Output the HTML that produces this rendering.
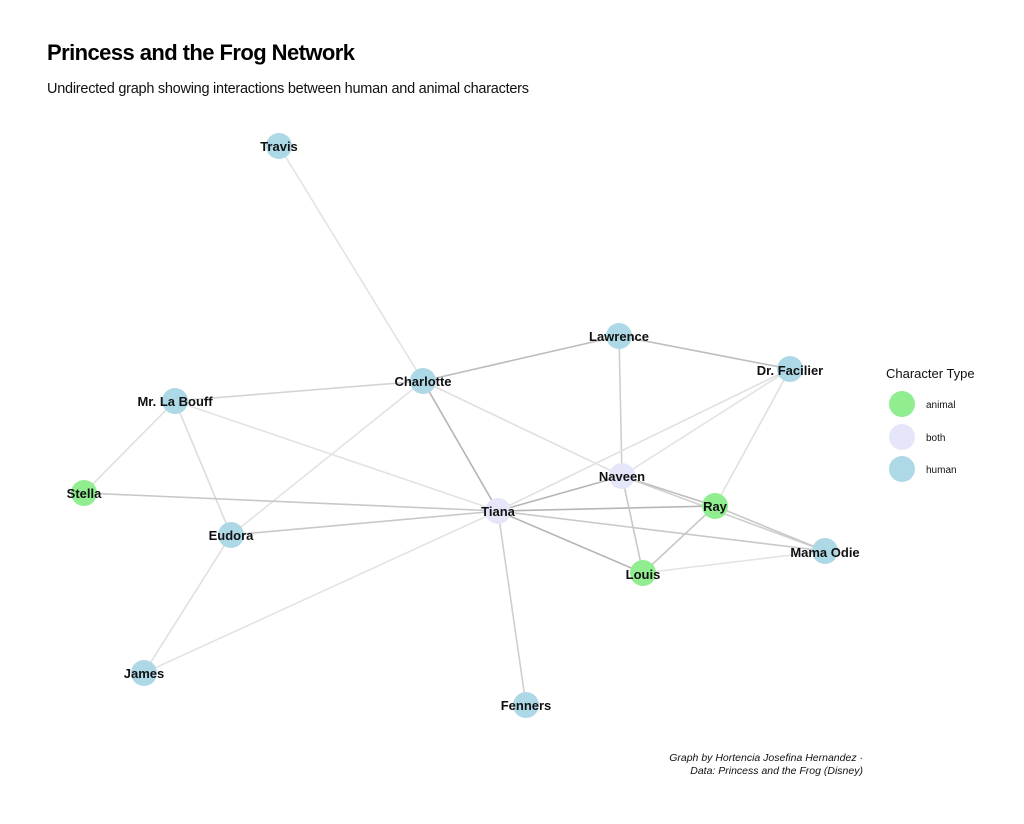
<!DOCTYPE html>
<html><head><style>
body{margin:0;background:#fff;}
svg text{font-family:"Liberation Sans",Arial,sans-serif;}
</style></head><body>
<svg width="1024" height="819" xmlns="http://www.w3.org/2000/svg">
<rect width="1024" height="819" fill="#fff"/>
<text x="47" y="60" font-size="22" font-weight="bold" fill="#000" textLength="308">Princess and the Frog Network</text>
<text x="47" y="93" font-size="14.5" fill="#111" textLength="482">Undirected graph showing interactions between human and animal characters</text>
<g stroke-width="1.6" fill="none">
<line x1="279" y1="146" x2="423" y2="381" stroke="#e3e3e3"/>
<line x1="423" y1="381" x2="619" y2="336" stroke="#bdbdbd"/>
<line x1="619" y1="336" x2="790" y2="369" stroke="#bdbdbd"/>
<line x1="619" y1="336" x2="622" y2="476" stroke="#cfcfcf"/>
<line x1="423" y1="381" x2="175" y2="401" stroke="#d3d3d3"/>
<line x1="423" y1="381" x2="498" y2="511" stroke="#b5b5b5"/>
<line x1="423" y1="381" x2="622" y2="476" stroke="#e0e0e0"/>
<line x1="423" y1="381" x2="231" y2="535" stroke="#e3e3e3"/>
<line x1="175" y1="401" x2="84" y2="493" stroke="#e0e0e0"/>
<line x1="175" y1="401" x2="231" y2="535" stroke="#dcdcdc"/>
<line x1="175" y1="401" x2="498" y2="511" stroke="#e3e3e3"/>
<line x1="84" y1="493" x2="498" y2="511" stroke="#c8c8c8"/>
<line x1="231" y1="535" x2="498" y2="511" stroke="#c8c8c8"/>
<line x1="231" y1="535" x2="144" y2="673" stroke="#e0e0e0"/>
<line x1="144" y1="673" x2="498" y2="511" stroke="#e3e3e3"/>
<line x1="498" y1="511" x2="526" y2="705" stroke="#cfcfcf"/>
<line x1="498" y1="511" x2="622" y2="476" stroke="#b5b5b5"/>
<line x1="498" y1="511" x2="715" y2="506" stroke="#b5b5b5"/>
<line x1="498" y1="511" x2="643" y2="573" stroke="#b5b5b5"/>
<line x1="498" y1="511" x2="825" y2="551" stroke="#c8c8c8"/>
<line x1="498" y1="511" x2="790" y2="369" stroke="#e0e0e0"/>
<line x1="622" y1="476" x2="790" y2="369" stroke="#e3e3e3"/>
<line x1="622" y1="476" x2="715" y2="506" stroke="#bdbdbd"/>
<line x1="622" y1="476" x2="825" y2="551" stroke="#cfcfcf"/>
<line x1="622" y1="476" x2="643" y2="573" stroke="#c8c8c8"/>
<line x1="715" y1="506" x2="790" y2="369" stroke="#e0e0e0"/>
<line x1="715" y1="506" x2="643" y2="573" stroke="#c8c8c8"/>
<line x1="715" y1="506" x2="825" y2="551" stroke="#c8c8c8"/>
<line x1="643" y1="573" x2="825" y2="551" stroke="#e3e3e3"/>
</g>
<g>
<circle cx="279" cy="146" r="13" fill="#add8e6"/>
<circle cx="619" cy="336" r="13" fill="#add8e6"/>
<circle cx="790" cy="369" r="13" fill="#add8e6"/>
<circle cx="423" cy="381" r="13" fill="#add8e6"/>
<circle cx="175" cy="401" r="13" fill="#add8e6"/>
<circle cx="84" cy="493" r="13" fill="#90ee90"/>
<circle cx="622" cy="476" r="13" fill="#e6e6fa"/>
<circle cx="715" cy="506" r="13" fill="#90ee90"/>
<circle cx="498" cy="511" r="13" fill="#e6e6fa"/>
<circle cx="231" cy="535" r="13" fill="#add8e6"/>
<circle cx="825" cy="551" r="13" fill="#add8e6"/>
<circle cx="643" cy="573" r="13" fill="#90ee90"/>
<circle cx="144" cy="673" r="13" fill="#add8e6"/>
<circle cx="526" cy="705" r="13" fill="#add8e6"/>
</g>
<g font-size="13" font-weight="bold" fill="#111" text-anchor="middle">
<text x="279" y="151">Travis</text>
<text x="619" y="341">Lawrence</text>
<text x="790" y="375">Dr. Facilier</text>
<text x="423" y="386">Charlotte</text>
<text x="175" y="406">Mr. La Bouff</text>
<text x="84" y="498">Stella</text>
<text x="622" y="481">Naveen</text>
<text x="715" y="511">Ray</text>
<text x="498" y="516">Tiana</text>
<text x="231" y="540">Eudora</text>
<text x="825" y="557">Mama Odie</text>
<text x="643" y="579">Louis</text>
<text x="144" y="678">James</text>
<text x="526" y="710">Fenners</text>
</g>
<text x="886" y="378" font-size="13" fill="#111">Character Type</text>
<circle cx="902" cy="404" r="13" fill="#90ee90"/>
<circle cx="902" cy="437" r="13" fill="#e6e6fa"/>
<circle cx="902" cy="469" r="13" fill="#add8e6"/>
<g font-size="10" fill="#111">
<text x="926" y="408">animal</text>
<text x="926" y="441">both</text>
<text x="926" y="473">human</text>
</g>
<g font-size="10.5" font-style="italic" fill="#111" text-anchor="end">
<text x="863" y="761">Graph by Hortencia Josefina Hernandez ·</text>
<text x="863" y="774">Data: Princess and the Frog (Disney)</text>
</g>
</svg>
</body></html>
